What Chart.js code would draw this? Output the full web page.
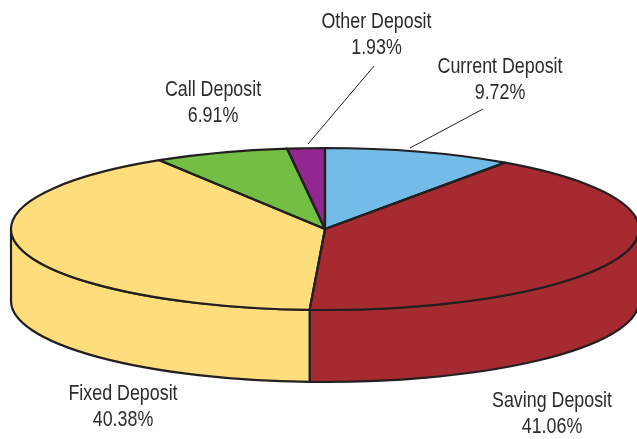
<!DOCTYPE html>
<html>
<head>
<meta charset="utf-8">
<title>Deposits</title>
<script src="https://cdn.jsdelivr.net/npm/chart.js@4"></script>
<style>
  html, body { margin: 0; padding: 0; background: #fff; }
  canvas { display: block; }
</style>
</head>
<body>
<canvas id="depositChart" width="637" height="439"></canvas>
<script>
// Values
const categories = ['Current Deposit', 'Saving Deposit', 'Fixed Deposit', 'Call Deposit', 'Other Deposit'];
const shares = [9.72, 41.06, 40.38, 6.91, 1.93];
const sliceColors = ['#74BCE8', '#A52B30', '#FEDD7C', '#73BF44', '#92278F'];

// Label anchors, same order as categories: [centre x, first baseline]
const labelAnchors = [[500, 73], [552, 407], [123, 400], [213, 96], [376.5, 28]];
// Leader lines: [x1, y1, x2, y2]
const leaders = [[483, 109, 410, 148], [374, 66, 308, 144]];

const EDGE = '#231F20';
const TILT = 81 / 314;   // flattening of the pie
const DEPTH = 72;        // wall height
const LINE = 2.2;
const NARROW = 0.83;     // no condensed face installed, so squeeze the text

// Walls are drawn first, then the pie is squashed while Chart.js draws it,
// then outlines go on top so the line width stays even
const tiltedPie = {
    id: 'tiltedPie',
    beforeDatasetsDraw(chart) {
        const ctx = chart.ctx;
        const arcs = chart.getDatasetMeta(0).data;
        ctx.save();
        ctx.lineWidth = LINE;
        ctx.strokeStyle = EDGE;
        ctx.lineJoin = 'round';
        arcs.forEach((arc, i) => {
            const start = Math.max(arc.startAngle, 0);
            const end = Math.min(arc.endAngle, Math.PI);
            if (start >= end) return;
            const ry = arc.outerRadius * TILT;
            ctx.beginPath();
            ctx.ellipse(arc.x, arc.y, arc.outerRadius, ry, 0, start, end);
            ctx.ellipse(arc.x, arc.y + DEPTH, arc.outerRadius, ry, 0, end, start, true);
            ctx.closePath();
            ctx.fillStyle = sliceColors[i];
            ctx.fill();
            ctx.stroke();
        });
        ctx.restore();

        const cy = arcs[0].y;
        ctx.save();
        ctx.translate(0, cy);
        ctx.scale(1, TILT);
        ctx.translate(0, -cy);
    },
    afterDatasetsDraw(chart) {
        const ctx = chart.ctx;
        ctx.restore();

        // Slice outlines
        ctx.save();
        ctx.lineWidth = LINE;
        ctx.strokeStyle = EDGE;
        ctx.lineJoin = 'round';
        chart.getDatasetMeta(0).data.forEach(arc => {
            const ry = arc.outerRadius * TILT;
            ctx.beginPath();
            ctx.moveTo(arc.x, arc.y);
            ctx.ellipse(arc.x, arc.y, arc.outerRadius, ry, 0, arc.startAngle, arc.endAngle);
            ctx.closePath();
            ctx.stroke();
        });
        ctx.restore();

        // Leader lines
        ctx.save();
        ctx.lineWidth = 1;
        ctx.strokeStyle = EDGE;
        leaders.forEach(([x1, y1, x2, y2]) => {
            ctx.beginPath();
            ctx.moveTo(x1, y1);
            ctx.lineTo(x2, y2);
            ctx.stroke();
        });
        ctx.restore();

        // Labels
        ctx.font = '21.5px "Liberation Sans"';
        ctx.textAlign = 'center';
        ctx.textBaseline = 'alphabetic';
        ctx.fillStyle = '#2B2B2B';
        categories.forEach((name, i) => {
            const [x, y] = labelAnchors[i];
            ctx.save();
            ctx.translate(x, y);
            ctx.scale(NARROW, 1);
            ctx.fillText(name, 0, 0);
            ctx.fillText(shares[i].toFixed(2) + '%', 0, 26);
            ctx.restore();
        });
    }
};

new Chart(document.getElementById('depositChart').getContext('2d'), {
    type: 'pie',
    data: {
        labels: categories,
        datasets: [{
            data: shares,
            backgroundColor: sliceColors,
            borderWidth: 0,
            radius: 314,
            clip: false
        }]
    },
    options: {
        responsive: false,
        animation: false,
        layout: { padding: { left: 13, top: 19 } },
        plugins: {
            legend: { display: false },
            tooltip: { enabled: false }
        }
    },
    plugins: [tiltedPie]
});
</script>
</body>
</html>
